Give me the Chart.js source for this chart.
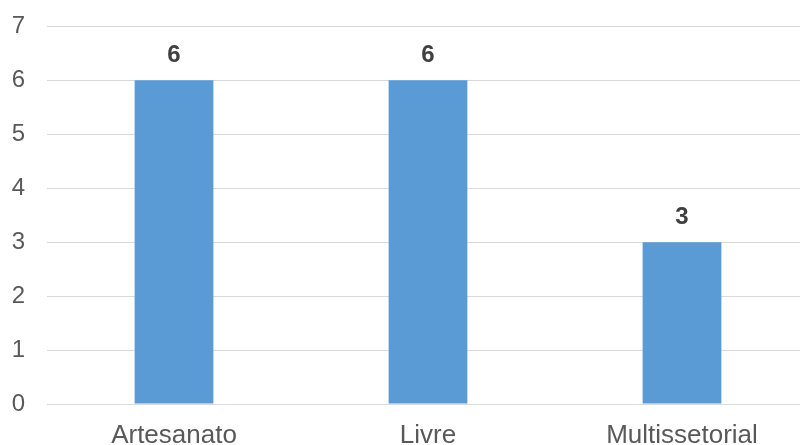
<!DOCTYPE html>
<html>
<head>
<meta charset="utf-8">
<script src="https://cdn.jsdelivr.net/npm/chart.js@4"></script>
<style>
  html, body { margin: 0; padding: 0; overflow: hidden; background: #fff; }
  #wrap { width: 800px; height: 445px; overflow: hidden; }
  #graph_canvas { display: block; margin-top: -10px; }
</style>
</head>
<body>
<div id="wrap"><canvas id="graph_canvas" width="809" height="480"></canvas></div>
<script>
// chart data
const categories = ['Artesanato', 'Livre', 'Multissetorial'];
const values = [6, 6, 3];
const yTicks = [0, 1, 2, 3, 4, 5, 6, 7];

const barColor = '#5B9BD5';
const gridColor = '#d9d9d9';
const textColor = '#595959';

// draws the bold value on top of every bar
const valueLabels = {
    id: 'valueLabels',
    afterDatasetsDraw(chart) {
        const ctx = chart.ctx;
        const meta = chart.getDatasetMeta(0);
        ctx.save();
        ctx.font = 'bold 24px "Liberation Sans", Arial, sans-serif';
        ctx.fillStyle = '#404040';
        ctx.textAlign = 'center';
        ctx.textBaseline = 'alphabetic';
        meta.data.forEach(function(bar, i) {
            ctx.fillText(String(values[i]), bar.x, bar.y - 18);
        });
        ctx.restore();
    }
};

const ctx = document.getElementById('graph_canvas').getContext('2d');
const chart = new Chart(ctx, {
    type: 'bar',
    data: {
        labels: categories,
        datasets: [{
            data: values,
            backgroundColor: barColor,
            borderWidth: 0,
            categoryPercentage: 1,
            barPercentage: 0.31
        }]
    },
    options: {
        responsive: false,
        maintainAspectRatio: false,
        animation: false,
        layout: { padding: { top: 16, left: 0, right: 0, bottom: 0 } },
        plugins: {
            legend: { display: false },
            tooltip: { enabled: false }
        },
        scales: {
            x: {
                grid: { display: false, drawTicks: false },
                border: { display: true, color: gridColor, width: 1 },
                ticks: {
                    color: textColor,
                    padding: 16,
                    font: { family: '"Liberation Sans", Arial, sans-serif', size: 26 }
                },
                afterFit(scale) { scale.height = 66; }
            },
            y: {
                min: 0,
                max: 7,
                afterBuildTicks(scale) {
                    scale.ticks = yTicks.map(v => ({ value: v }));
                },
                grid: { color: gridColor, lineWidth: 1, drawTicks: false },
                border: { display: false },
                ticks: {
                    color: textColor,
                    padding: 22,
                    font: { family: '"Liberation Sans", Arial, sans-serif', size: 24 }
                },
                afterFit(scale) { scale.width = 47; }
            }
        }
    },
    plugins: [valueLabels]
});
</script>
</body>
</html>
